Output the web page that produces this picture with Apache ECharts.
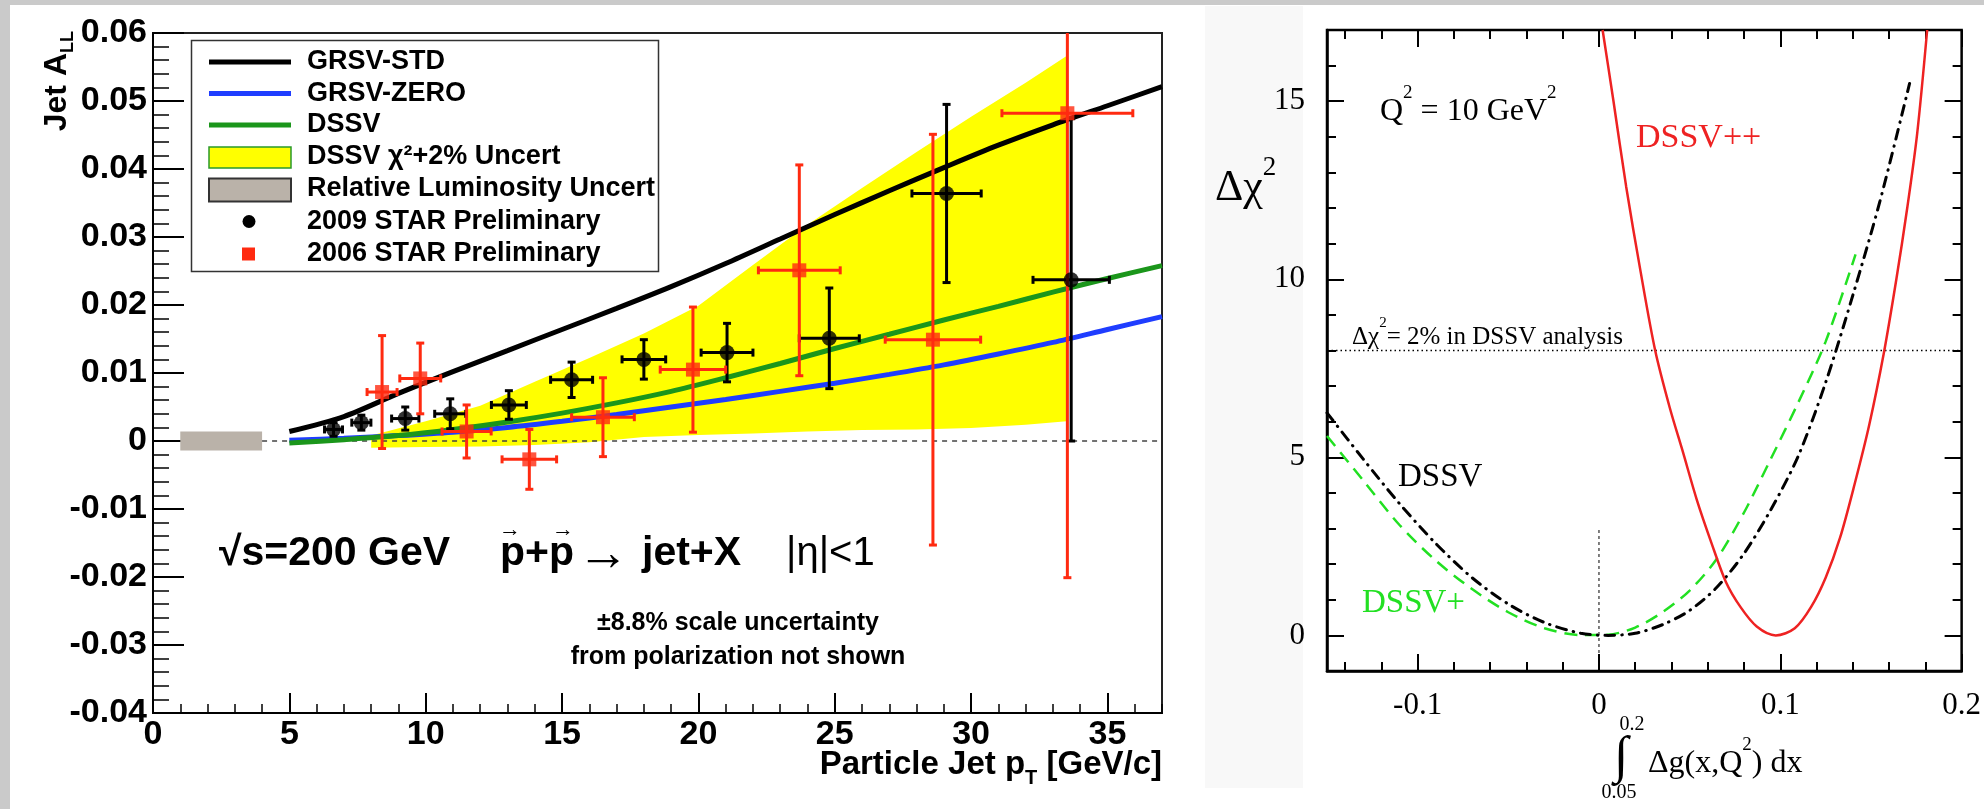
<!DOCTYPE html>
<html>
<head>
<meta charset="utf-8">
<script src="https://cdn.jsdelivr.net/npm/echarts@6/dist/echarts.min.js"></script>
<style>
  html, body { margin: 0; padding: 0; background: #cacaca; }
  #wrap { position: relative; width: 1984px; height: 809px; background: #cacaca; overflow: hidden; }
  #paper { position: absolute; left: 10px; top: 5px; width: 1974px; height: 804px; background: #fff; }
  #strip { position: absolute; left: 1205px; top: 6px; width: 98px; height: 782px; background: #f8f8f8; }
  #chart { position: absolute; left: 0; top: 0; width: 1984px; height: 809px; }
</style>
</head>
<body>
<div id="wrap">
  <div id="paper"></div>
  <div id="strip"></div>
  <div id="chart"></div>
</div>
<script>
// ---- left panel: jet A_LL vs particle jet pT ----
const ptTicks = [0, 5, 10, 15, 20, 25, 30, 35];

// 2009 STAR preliminary (black circles)
const star2009X  = [6.62, 7.64, 9.25, 10.9, 13.05, 15.35, 18.0, 21.05, 24.8, 29.1, 33.67];
const star2009Y  = [0.0017, 0.0027, 0.0033, 0.0040, 0.0053, 0.0090, 0.0120, 0.0130, 0.0151, 0.0364, 0.0237];
const star2009Ex = [0.33, 0.35, 0.5, 0.57, 0.64, 0.77, 0.8, 0.95, 1.1, 1.27, 1.4];
const star2009Ey = [0.0010, 0.0011, 0.0017, 0.0022, 0.0021, 0.0026, 0.0029, 0.0043, 0.0074, 0.0131, 0.0237];

// 2006 STAR preliminary (red squares)
const star2006X  = [8.4, 9.8, 11.5, 13.8, 16.5, 19.8, 23.7, 28.6, 33.53];
const star2006Y  = [0.0072, 0.0092, 0.0014, -0.0027, 0.0035, 0.0105, 0.0251, 0.0149, 0.0482];
const star2006Ex = [0.55, 0.75, 0.9, 1.0, 1.15, 1.2, 1.5, 1.75, 2.4];
const star2006Ey = [0.0083, 0.0052, 0.0039, 0.0044, 0.0058, 0.0092, 0.0155, 0.0302, 0.0683];

// theory curves
const theoryX  = [5, 7, 9, 11, 13, 15, 17, 19, 21, 23, 25, 27, 29, 31, 33, 35, 37];
const grsvStd  = [0.0014, 0.0036, 0.0070, 0.0102, 0.0133, 0.0164, 0.0195, 0.0227, 0.0261, 0.0297, 0.0333, 0.0368, 0.0402, 0.0435, 0.0465, 0.0493, 0.0521];
const grsvZero = [0.0001, 0.0004, 0.0008, 0.0013, 0.0020, 0.0029, 0.0039, 0.0050, 0.0061, 0.0073, 0.0085, 0.0098, 0.0112, 0.0128, 0.0145, 0.0164, 0.0183];
const dssv     = [-0.0003, 0.0002, 0.0008, 0.0017, 0.0028, 0.0041, 0.0056, 0.0073, 0.0093, 0.0114, 0.0136, 0.0157, 0.0178, 0.0198, 0.0219, 0.0239, 0.0258];

// DSSV chi2+2% band
const bandX  = [8, 10, 12, 14, 16, 18, 20, 22, 24, 26, 28, 30, 32, 33.5];
const bandHi = [0.0008, 0.0029, 0.0052, 0.0087, 0.0122, 0.0158, 0.0199, 0.0259, 0.0318, 0.0372, 0.0425, 0.0477, 0.0527, 0.0566];
const bandLo = [-0.0010, -0.0009, -0.0008, -0.0006, -0.0002, 0.0006, 0.0009, 0.0011, 0.0014, 0.0016, 0.0017, 0.0019, 0.0024, 0.0029];

const lumiBox  = [1, 4, 0.0014];      // x from, x to, half height
const zeroLine = [[4, 0], [37, 0]];

// ---- right panel: delta chi2 vs integral of delta g ----
const dgMajor = [-0.1, 0, 0.1, 0.2];
const dgMinor = [-0.14, -0.12, -0.1, -0.08, -0.06, -0.04, -0.02, 0, 0.02, 0.04, 0.06, 0.08, 0.1, 0.12, 0.14, 0.16, 0.18, 0.2];
const chiMajor = [0, 5, 10, 15];

const dssvCurveX = [-0.15, -0.13, -0.11, -0.09, -0.07, -0.05, -0.03, -0.01, 0.005, 0.02, 0.035, 0.05, 0.065, 0.08, 0.095, 0.11, 0.125, 0.14, 0.155, 0.1713];
const dssvCurveY = [6.25, 4.95, 3.7, 2.58, 1.62, 0.88, 0.36, 0.06, 0, 0.06, 0.3, 0.7, 1.35, 2.3, 3.55, 5.05, 7.1, 9.55, 12.2, 15.5];

const dssvPlusX = [-0.15, -0.13, -0.11, -0.09, -0.07, -0.05, -0.03, -0.01, 0.005, 0.02, 0.035, 0.05, 0.065, 0.08, 0.095, 0.11, 0.125, 0.1415];
const dssvPlusY = [5.6, 4.35, 3.1, 2.1, 1.3, 0.65, 0.2, 0.01, 0.02, 0.22, 0.65, 1.26, 2.15, 3.45, 4.98, 6.55, 8.25, 10.7];

const dssvPPX = [0.002, 0.008, 0.015, 0.023, 0.031, 0.039, 0.046, 0.054, 0.062, 0.070, 0.078, 0.087, 0.0975, 0.108, 0.117, 0.125, 0.133, 0.141, 0.149, 0.157, 0.164, 0.170, 0.1755, 0.181];
const dssvPPY = [17.0, 15.0, 12.6, 10.2, 8.0, 6.4, 5.2, 3.8, 2.6, 1.5, 0.8, 0.25, 0, 0.2, 0.8, 1.62, 2.75, 4.25, 5.9, 7.9, 10.0, 12.0, 14.1, 17.0];

const chi2Level = [[-0.15, 8], [0.2, 8]];
const zeroMark  = [[0, -1], [0, 3]];

const SANS = 'Liberation Sans, Arial, Helvetica, sans-serif';
const SERIF = 'Liberation Serif, Times New Roman, serif';

const chart = echarts.init(document.getElementById('chart'));

const pairs = (xs, ys) => xs.map((x, i) => [x, ys[i]]);

// error bars with small end caps
function errBars(color, width) {
  return function (params, api) {
    const x = api.value(0), y = api.value(1), ex = api.value(2), ey = api.value(3);
    const l = api.coord([x - ex, y]), r = api.coord([x + ex, y]);
    const t = api.coord([x, y + ey]), b = api.coord([x, y - ey]);
    const style = { stroke: color, lineWidth: width };
    const cap = 4;
    const seg = (x1, y1, x2, y2) => ({ type: 'line', shape: { x1, y1, x2, y2 }, style });
    return {
      type: 'group',
      children: [
        seg(l[0], l[1], r[0], r[1]),
        seg(t[0], t[1], b[0], b[1]),
        seg(l[0], l[1] - cap, l[0], l[1] + cap),
        seg(r[0], r[1] - cap, r[0], r[1] + cap),
        seg(t[0] - cap, t[1], t[0] + cap, t[1]),
        seg(b[0] - cap, b[1], b[0] + cap, b[1])
      ]
    };
  };
}

const blk = { color: '#000', width: 2 };
function axisBase(extra) {
  return Object.assign({
    type: 'value',
    splitLine: { show: false },
    axisLine: { show: false, onZero: false },
    axisLabel: { show: false }
  }, extra);
}

const option = {
  animation: false,
  backgroundColor: 'transparent',
  grid: [
    { left: 153, top: 33, width: 1009, height: 680, show: true, borderColor: '#222', borderWidth: 2, backgroundColor: 'transparent' },
    { left: 1327, top: 30, width: 642, height: 641, show: true, borderColor: '#000', borderWidth: 2.5, backgroundColor: 'transparent' }
  ],
  xAxis: [
    axisBase({ gridIndex: 0, min: 0, max: 37, position: 'bottom',
      axisLine: { show: true, onZero: false, lineStyle: blk },
      axisTick: { inside: true, length: 20, lineStyle: blk, customValues: ptTicks },
      axisLabel: { show: true, customValues: ptTicks, color: '#000', fontFamily: SANS, fontWeight: 'bold', fontSize: 34, margin: 5 } }),
    axisBase({ gridIndex: 0, min: 0, max: 37, interval: 1, position: 'bottom',
      axisTick: { inside: true, length: 9, lineStyle: { color: '#000', width: 1.5 } } }),
    axisBase({ gridIndex: 1, min: -0.15, max: 0.2, position: 'bottom',
      axisLine: { show: true, onZero: false, lineStyle: { color: '#000', width: 2.5 } },
      axisTick: { inside: true, length: 17, lineStyle: blk, customValues: dgMajor },
      axisLabel: { show: true, customValues: dgMajor, color: '#000', fontFamily: SERIF, fontSize: 31, margin: 19,
        formatter: v => (Math.abs(v) < 1e-9 ? '0' : String(+v.toFixed(2))) } }),
    axisBase({ gridIndex: 1, min: -0.15, max: 0.2, position: 'bottom',
      axisTick: { inside: true, length: 9, lineStyle: blk, customValues: dgMinor } }),
    axisBase({ gridIndex: 1, min: -0.15, max: 0.2, position: 'top',
      axisTick: { inside: true, length: 17, lineStyle: blk, customValues: dgMajor } }),
    axisBase({ gridIndex: 1, min: -0.15, max: 0.2, position: 'top',
      axisTick: { inside: true, length: 9, lineStyle: blk, customValues: dgMinor } })
  ],
  yAxis: [
    axisBase({ gridIndex: 0, min: -0.04, max: 0.06, interval: 0.01, position: 'left',
      axisLine: { show: true, onZero: false, lineStyle: blk },
      axisTick: { inside: true, length: 31, lineStyle: blk },
      axisLabel: { show: true, color: '#000', fontFamily: SANS, fontWeight: 'bold', fontSize: 34, margin: 6,
        formatter: v => (Math.abs(v) < 1e-9 ? '0' : v.toFixed(2)) } }),
    axisBase({ gridIndex: 0, min: -0.04, max: 0.06, interval: 0.002, position: 'left',
      axisTick: { inside: true, length: 16, lineStyle: { color: '#000', width: 1.5 } } }),
    axisBase({ gridIndex: 1, min: -1, max: 17, position: 'left',
      axisLine: { show: true, onZero: false, lineStyle: { color: '#000', width: 2.5 } },
      axisTick: { inside: true, length: 17, lineStyle: blk, customValues: chiMajor },
      axisLabel: { show: true, customValues: chiMajor, color: '#000', fontFamily: SERIF, fontSize: 31, margin: 22 } }),
    axisBase({ gridIndex: 1, min: -1, max: 17, interval: 1, position: 'left',
      axisTick: { inside: true, length: 9, lineStyle: blk } }),
    axisBase({ gridIndex: 1, min: -1, max: 17, position: 'right',
      axisTick: { inside: true, length: 17, lineStyle: blk, customValues: chiMajor } }),
    axisBase({ gridIndex: 1, min: -1, max: 17, interval: 1, position: 'right',
      axisTick: { inside: true, length: 9, lineStyle: blk } })
  ],
  series: [
    // ---- left panel ----
    {
      name: 'DSSV χ²+2% Uncert', type: 'custom', xAxisIndex: 0, yAxisIndex: 0, z: 1, silent: true, clip: true,
      data: pairs(bandX, bandHi), encode: { x: 0, y: 1 },
      renderItem(params, api) {
        if (params.dataIndex !== 0) return null;
        const top = bandX.map((x, i) => api.coord([x, bandHi[i]]));
        const bot = bandX.map((x, i) => api.coord([x, bandLo[i]])).reverse();
        return { type: 'polygon', shape: { points: top.concat(bot) }, style: { fill: '#ffff00' } };
      }
    },
    {
      name: 'Relative Luminosity Uncert', type: 'custom', xAxisIndex: 0, yAxisIndex: 0, z: 2, silent: true,
      data: [lumiBox], encode: { x: 0, y: 2 },
      renderItem(params, api) {
        const a = api.coord([api.value(0), api.value(2)]);
        const b = api.coord([api.value(1), -api.value(2)]);
        return { type: 'rect', shape: { x: a[0], y: a[1], width: b[0] - a[0], height: b[1] - a[1] }, style: { fill: '#bab2a9' } };
      }
    },
    {
      type: 'line', xAxisIndex: 0, yAxisIndex: 0, z: 2, data: zeroLine, showSymbol: false, silent: true,
      lineStyle: { color: '#444', width: 1.5, type: [5, 5] }
    },
    {
      name: 'GRSV-ZERO', type: 'line', xAxisIndex: 0, yAxisIndex: 0, z: 3, smooth: 0.3, showSymbol: false,
      data: pairs(theoryX, grsvZero), lineStyle: { color: '#1f3dff', width: 5 }
    },
    {
      name: 'DSSV', type: 'line', xAxisIndex: 0, yAxisIndex: 0, z: 3, smooth: 0.3, showSymbol: false,
      data: pairs(theoryX, dssv), lineStyle: { color: '#1b961b', width: 5 }
    },
    {
      name: 'GRSV-STD', type: 'line', xAxisIndex: 0, yAxisIndex: 0, z: 3, smooth: 0.3, showSymbol: false,
      data: pairs(theoryX, grsvStd), lineStyle: { color: '#000', width: 5 }
    },
    {
      name: '2009 err', type: 'custom', xAxisIndex: 0, yAxisIndex: 0, z: 4, clip: true,
      data: star2009X.map((x, i) => [x, star2009Y[i], star2009Ex[i], star2009Ey[i]]), encode: { x: 0, y: 1 },
      renderItem: errBars('#000', 3)
    },
    {
      name: '2006 err', type: 'custom', xAxisIndex: 0, yAxisIndex: 0, z: 5, clip: true,
      data: star2006X.map((x, i) => [x, star2006Y[i], star2006Ex[i], star2006Ey[i]]), encode: { x: 0, y: 1 },
      renderItem: errBars('#ff2a10', 3)
    },
    {
      name: '2009 STAR Preliminary', type: 'scatter', xAxisIndex: 0, yAxisIndex: 0, z: 6,
      symbol: 'circle', symbolSize: 15, itemStyle: { color: '#000' }, data: pairs(star2009X, star2009Y)
    },
    {
      name: '2006 STAR Preliminary', type: 'scatter', xAxisIndex: 0, yAxisIndex: 0, z: 6,
      symbol: 'rect', symbolSize: 14, itemStyle: { color: '#ff2a10' }, data: pairs(star2006X, star2006Y)
    },
    // ---- right panel ----
    {
      type: 'line', xAxisIndex: 2, yAxisIndex: 2, z: 2, data: chi2Level, showSymbol: false, silent: true,
      lineStyle: { color: '#000', width: 1.5, type: [1.5, 3] }
    },
    {
      type: 'line', xAxisIndex: 2, yAxisIndex: 2, z: 2, data: zeroMark, showSymbol: false, silent: true,
      lineStyle: { color: '#000', width: 1, type: [3, 3] }
    },
    {
      name: 'DSSV+', type: 'line', xAxisIndex: 2, yAxisIndex: 2, z: 3, smooth: 0.3, showSymbol: false,
      data: pairs(dssvPlusX, dssvPlusY), lineStyle: { color: '#22e022', width: 2.5, type: [13, 8] }
    },
    {
      name: 'DSSV right', type: 'line', xAxisIndex: 2, yAxisIndex: 2, z: 4, smooth: 0.3, showSymbol: false,
      data: pairs(dssvCurveX, dssvCurveY), lineStyle: { color: '#000', width: 3, type: [10, 7, 0.5, 7], cap: 'round' }
    },
    {
      name: 'DSSV++', type: 'line', xAxisIndex: 2, yAxisIndex: 2, z: 4, smooth: 0.3, showSymbol: false,
      data: pairs(dssvPPX, dssvPPY), lineStyle: { color: '#ee2222', width: 2.5 }
    }
  ],
  graphic: { elements: [
    // legend box
    { type: 'rect', z: 20, shape: { x: 191.5, y: 40.5, width: 467, height: 231 }, style: { fill: '#fff', stroke: '#333', lineWidth: 1.5 } },
    { type: 'line', z: 21, shape: { x1: 209, y1: 62, x2: 291, y2: 62 }, style: { stroke: '#000', lineWidth: 5 } },
    { type: 'line', z: 21, shape: { x1: 209, y1: 93.5, x2: 291, y2: 93.5 }, style: { stroke: '#1f3dff', lineWidth: 5 } },
    { type: 'line', z: 21, shape: { x1: 209, y1: 125, x2: 291, y2: 125 }, style: { stroke: '#1b961b', lineWidth: 5 } },
    { type: 'rect', z: 21, shape: { x: 209, y: 147, width: 82, height: 21 }, style: { fill: '#ffff00', stroke: '#2a9a2a', lineWidth: 1.5 } },
    { type: 'rect', z: 21, shape: { x: 209, y: 178.5, width: 82, height: 23 }, style: { fill: '#bab2a9', stroke: '#333', lineWidth: 2 } },
    { type: 'circle', z: 21, shape: { cx: 249, cy: 221.5, r: 6.5 }, style: { fill: '#000' } },
    { type: 'rect', z: 21, shape: { x: 242, y: 247.5, width: 13, height: 13 }, style: { fill: '#ff2a10' } },
    { type: 'text', z: 21, x: 307, y: 62, style: { text: 'GRSV-STD', font: 'bold 27px ' + SANS, fill: '#000', verticalAlign: 'middle' } },
    { type: 'text', z: 21, x: 307, y: 93.5, style: { text: 'GRSV-ZERO', font: 'bold 27px ' + SANS, fill: '#000', verticalAlign: 'middle' } },
    { type: 'text', z: 21, x: 307, y: 125, style: { text: 'DSSV', font: 'bold 27px ' + SANS, fill: '#000', verticalAlign: 'middle' } },
    { type: 'text', z: 21, x: 307, y: 157, style: { text: 'DSSV χ²+2% Uncert', font: 'bold 27px ' + SANS, fill: '#000', verticalAlign: 'middle' } },
    { type: 'text', z: 21, x: 307, y: 189, style: { text: 'Relative Luminosity Uncert', font: 'bold 27px ' + SANS, fill: '#000', verticalAlign: 'middle' } },
    { type: 'text', z: 21, x: 307, y: 221.5, style: { text: '2009 STAR Preliminary', font: 'bold 27px ' + SANS, fill: '#000', verticalAlign: 'middle' } },
    { type: 'text', z: 21, x: 307, y: 254, style: { text: '2006 STAR Preliminary', font: 'bold 27px ' + SANS, fill: '#000', verticalAlign: 'middle' } },

    // left axis titles
    { type: 'text', z: 21, x: 57, y: 31, rotation: Math.PI / 2, style: {
      text: '{a|Jet A}{s|LL}', align: 'right', verticalAlign: 'middle',
      rich: { a: { font: 'bold 32px ' + SANS, fill: '#000', lineHeight: 40, verticalAlign: 'middle' },
              s: { font: 'bold 18px ' + SANS, fill: '#000', lineHeight: 40, verticalAlign: 'bottom' } } } },
    { type: 'text', z: 21, x: 1162, y: 765, style: {
      text: '{a|Particle Jet p}{s|T}{a| [GeV/c]}', align: 'right', verticalAlign: 'middle',
      rich: { a: { font: 'bold 33px ' + SANS, fill: '#000', lineHeight: 46, verticalAlign: 'middle' },
              s: { font: 'bold 20px ' + SANS, fill: '#000', lineHeight: 46, verticalAlign: 'bottom' } } } },

    // reaction text
    { type: 'text', z: 21, x: 219, y: 554, style: { text: '√s=200 GeV', font: 'bold 41px ' + SANS, fill: '#000', verticalAlign: 'middle' } },
    { type: 'text', z: 21, x: 500, y: 554, style: { text: 'p+p', font: 'bold 41px ' + SANS, fill: '#000', verticalAlign: 'middle' } },
    { type: 'text', z: 21, x: 499, y: 530, style: { text: '→', font: 'bold 22px ' + SANS, fill: '#000', verticalAlign: 'middle' } },
    { type: 'text', z: 21, x: 552, y: 530, style: { text: '→', font: 'bold 22px ' + SANS, fill: '#000', verticalAlign: 'middle' } },
    { type: 'text', z: 21, x: 577, y: 556, style: { text: '→', font: '52px ' + SANS, fill: '#000', verticalAlign: 'middle' } },
    { type: 'text', z: 21, x: 642, y: 554, style: { text: 'jet+X', font: 'bold 41px ' + SANS, fill: '#000', verticalAlign: 'middle' } },
    { type: 'text', z: 21, x: 786, y: 554, style: { text: '|η|<1', font: '40px ' + SANS, fill: '#000', verticalAlign: 'middle' } },
    { type: 'text', z: 21, x: 738, y: 640, style: { text: '±8.8% scale uncertainty\nfrom polarization not shown', font: 'bold 25px ' + SANS, lineHeight: 34, fill: '#000', align: 'center', verticalAlign: 'middle' } },

    // right panel labels
    { type: 'text', z: 21, x: 1215, y: 182, style: {
      text: '{a|Δχ}{p|2}', verticalAlign: 'middle',
      rich: { a: { font: '44px ' + SERIF, fill: '#000', lineHeight: 56, verticalAlign: 'bottom' },
              p: { font: '27px ' + SERIF, fill: '#000', lineHeight: 56, verticalAlign: 'top' } } } },
    { type: 'text', z: 21, x: 1380, y: 106, style: {
      text: '{a|Q}{p|2}{a| = 10 GeV}{p|2}', verticalAlign: 'middle',
      rich: { a: { font: '32px ' + SERIF, fill: '#000', lineHeight: 44, verticalAlign: 'bottom' },
              p: { font: '19px ' + SERIF, fill: '#000', lineHeight: 44, verticalAlign: 'top' } } } },
    { type: 'text', z: 21, x: 1636, y: 138, style: { text: 'DSSV++', font: '34px ' + SERIF, fill: '#ee2222', verticalAlign: 'middle' } },
    { type: 'text', z: 21, x: 1352, y: 333, style: {
      text: '{a|Δχ}{p|2}{a|= 2% in DSSV analysis}', verticalAlign: 'middle',
      rich: { a: { font: '25px ' + SERIF, fill: '#000', lineHeight: 34, verticalAlign: 'bottom' },
              p: { font: '15px ' + SERIF, fill: '#000', lineHeight: 34, verticalAlign: 'top' } } } },
    { type: 'text', z: 21, x: 1398, y: 477, style: { text: 'DSSV', font: '33px ' + SERIF, fill: '#000', verticalAlign: 'middle' } },
    { type: 'text', z: 21, x: 1362, y: 603, style: { text: 'DSSV+', font: '33px ' + SERIF, fill: '#22e022', verticalAlign: 'middle' } },
    { type: 'text', z: 21, x: 1621, y: 758, style: { text: '∫', font: '52px ' + SERIF, fill: '#000', align: 'center', verticalAlign: 'middle' } },
    { type: 'text', z: 21, x: 1632, y: 725, style: { text: '0.2', font: '20px ' + SERIF, fill: '#000', align: 'center', verticalAlign: 'middle' } },
    { type: 'text', z: 21, x: 1619, y: 793, style: { text: '0.05', font: '20px ' + SERIF, fill: '#000', align: 'center', verticalAlign: 'middle' } },
    { type: 'text', z: 21, x: 1648, y: 758, style: {
      text: '{a|Δg(x,Q}{p|2}{a|) dx}', verticalAlign: 'middle',
      rich: { a: { font: '32px ' + SERIF, fill: '#000', lineHeight: 44, verticalAlign: 'bottom' },
              p: { font: '19px ' + SERIF, fill: '#000', lineHeight: 44, verticalAlign: 'top' } } } }
  ] }
};

chart.setOption(option);
</script>
</body>
</html>
